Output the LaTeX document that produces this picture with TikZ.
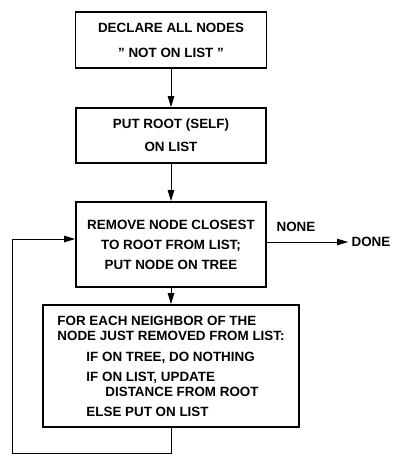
\documentclass[tikz,border=0pt]{standalone}
\usepackage{fontspec}
\setmainfont{Liberation Sans}
\usepackage{tikz}
\usetikzlibrary{arrows.meta,positioning,calc}

\begin{document}
\begin{tikzpicture}[x=1pt, y=-1pt,
    stepbox/.style={rectangle, draw=black, line width=1.8pt, text centered,
                    font=\fontsize{13.4}{15}\selectfont\bfseries},
    flow/.style={draw=black, line width=0.9pt, -{Triangle[length=11pt,width=6.5pt]}},
    lbl/.style={font=\fontsize{13.4}{15}\selectfont\bfseries}
]
\useasboundingbox (0,0) rectangle (393,456);

% Boxes
\node[stepbox, minimum width=191pt, minimum height=56pt, align=center] (declare) at (171, 40)
    {DECLARE ALL NODES\\[10pt] ” NOT ON LIST ”};
\node[stepbox, minimum width=190pt, minimum height=55pt, align=center] (putroot) at (171, 135.5)
    {PUT ROOT (SELF)\\[8pt] ON LIST};
\node[stepbox, minimum width=190pt, minimum height=85pt, align=center] (remove) at (171, 244.5)
    {REMOVE NODE CLOSEST\\[5pt] TO ROOT FROM LIST;\\[5pt] PUT NODE ON TREE};
\node[stepbox, minimum width=256pt, minimum height=122pt, align=left] (neighbor) at (171, 366)
    {FOR EACH NEIGHBOR OF THE\\
     NODE JUST REMOVED FROM LIST:\\[6pt]
     \hspace*{29pt}IF ON TREE, DO NOTHING\\[5pt]
     \hspace*{29pt}IF ON LIST, UPDATE\\
     \hspace*{48pt}DISTANCE FROM ROOT\\[5pt]
     \hspace*{29pt}ELSE PUT ON LIST};

% Labels
\node[lbl] (done) at (371, 242) {DONE};
\node[lbl] (none) at (296, 227) {NONE};

% Loop corners
\coordinate (c1) at (171, 453);
\coordinate (c2) at (12, 453);
\coordinate (c3) at (12, 239);

% Connections
\draw[flow] (declare) -- (putroot);
\draw[flow] (putroot) -- (remove);
\draw[flow] (remove) -- (neighbor);
\draw[flow] (remove.east |- done) -- (done.west);
\draw[flow] (neighbor.south) -- (c1) -- (c2) -- (c3) -- (c3 -| remove.west);

\end{tikzpicture}
\end{document}
